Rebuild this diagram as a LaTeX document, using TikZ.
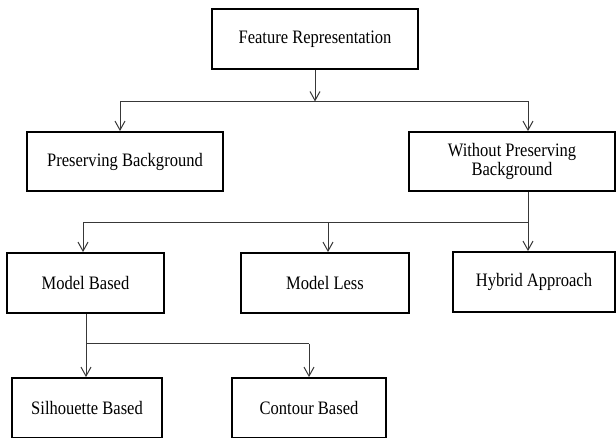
\documentclass[tikz,border=0pt]{standalone}
\usepackage{fontspec}
\setmainfont{Liberation Serif}[FakeStretch=0.87]
\usepackage{tikz}
\usetikzlibrary{arrows.meta,calc}

\begin{document}
\begin{tikzpicture}[x=1pt,y=-1pt,>={Straight Barb[length=9pt,width=10pt]},
    blk/.style={draw,line width=1.8pt,inner sep=2pt,align=center,
      font=\fontsize{19}{18.5}\selectfont},
    wire/.style={draw=black!78,line width=1pt},
    arr/.style={wire,->}]
  \useasboundingbox (0,0) rectangle (616,438);

  \node[blk,minimum width=206pt,minimum height=60pt] (fr) at (315,39) {Feature Representation};
  \node[blk,minimum width=196pt,minimum height=59pt] (pb) at (125,161.5) {Preserving Background};
  \node[blk,minimum width=206pt,minimum height=59pt] (wpb) at (512,161.5) {Without Preserving\\Background};
  \node[blk,minimum width=157pt,minimum height=60pt] (mb) at (85.5,283) {Model Based};
  \node[blk,minimum width=168pt,minimum height=60pt] (ml) at (325,283) {Model Less};
  \node[blk,minimum width=162pt,minimum height=60pt] (ha) at (534,282) {Hybrid Approach};
  \node[blk,minimum width=150pt,minimum height=60pt] (sb) at (87,408) {Silhouette Based};
  \node[blk,minimum width=154pt,minimum height=60pt] (cb) at (309,408) {Contour Based};

  \coordinate (top1) at (315,101.5);
  \coordinate (left1) at (120,101.5);
  \coordinate (right1) at (528,101.5);
  \draw[arr] (fr) -- (top1);
  \draw[wire] (left1) -- (right1);
  \draw[arr] (left1) -- (left1 |- pb.north);
  \draw[arr] (right1) -- (right1 |- wpb.north);

  \coordinate (left2) at (83,223);
  \coordinate (mid2) at (328,223);
  \coordinate (right2) at (528,223);
  \draw[wire] (wpb.south -| right2) -- (right2) -- (left2);
  \draw[arr] (left2) -- (left2 |- mb.north);
  \draw[arr] (mid2) -- (mid2 |- ml.north);
  \draw[arr] (right2) -- (right2 |- ha.north);

  \coordinate (left3) at (86,344);
  \coordinate (right3) at (309,344);
  \draw[wire] (mb.south -| left3) -- (left3) -- (right3);
  \draw[arr] (left3) -- (left3 |- sb.north);
  \draw[arr] (right3) -- (right3 |- cb.north);
\end{tikzpicture}
\end{document}
